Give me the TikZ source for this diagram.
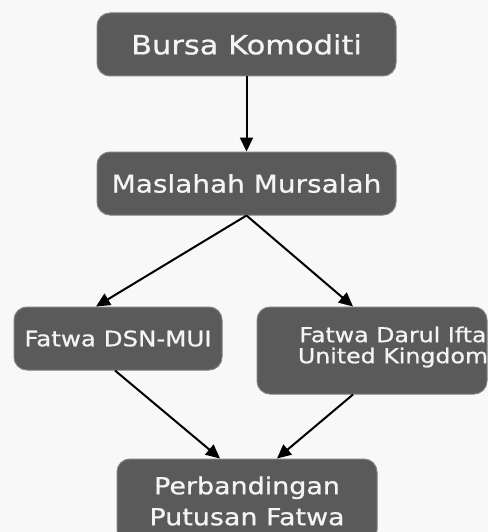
\documentclass[tikz,border=0pt]{standalone}
\usepackage{fontspec}
\setmainfont[FakeStretch=1.15,FakeBold=0.8]{DejaVu Sans}
\usetikzlibrary{arrows.meta,calc}
\definecolor{boxfill}{HTML}{5A5A5A}
\definecolor{boxline}{HTML}{808080}
\definecolor{bg}{HTML}{F8F8F8}
\definecolor{txt}{HTML}{F4F4F4}
\begin{document}
\begin{tikzpicture}[x=1pt,y=-1pt,
  box/.style={draw=boxline,line width=1pt,fill=boxfill,rounded corners=13pt,
    text=txt,align=center,inner sep=0pt},
  conn/.style={line width=2pt,-{Triangle[length=14pt,width=13pt]}}]
\fill[bg] (0,0) rectangle (488,532);
\useasboundingbox (0,0) rectangle (488,532);
\node[box,minimum width=299pt,minimum height=63pt,font=\fontsize{26.5}{30}\selectfont] (bk) at (246.5,44.5) {Bursa Komoditi};
\node[box,minimum width=299pt,minimum height=63pt,font=\fontsize{24.3}{28}\selectfont] (mm) at (246.5,183.5) {Maslahah Mursalah};
\node[box,minimum width=208pt,minimum height=63pt,font=\fontsize{21.3}{22}\selectfont] (dsn) at (118,338.5) {Fatwa DSN-MUI};
\node[box,minimum width=230pt,minimum height=87pt] (dar) at (372,350.5) {};
\node[text=txt,align=center,inner sep=0pt,font=\fontsize{20.6}{21}\selectfont] (dartxt) at (393,347) {Fatwa Darul Ifta\\United Kingdom};
\node[box,minimum width=260pt,minimum height=84pt,font=\fontsize{23.4}{31}\selectfont] (pf) at (247,501) {Perbandingan\\Putusan Fatwa};
\draw[conn] (bk.south) -- (mm.north);
\draw[conn] (mm.south) -- ([xshift=-22pt]dsn.north);
\draw[conn] (mm.south) -- ([xshift=-19pt]dar.north);
\draw[conn] ([xshift=-3pt]dsn.south) -- ([xshift=-27pt]pf.north);
\draw[conn] ([xshift=-19pt]dar.south) -- ([xshift=30pt]pf.north);
\end{tikzpicture}
\end{document}
